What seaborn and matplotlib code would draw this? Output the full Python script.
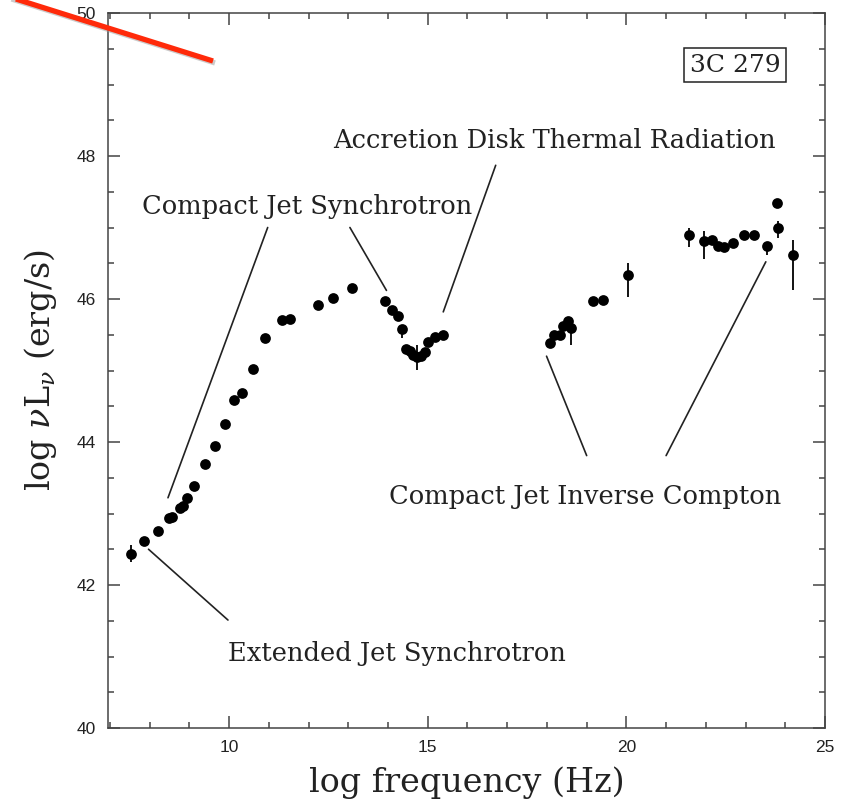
import matplotlib
matplotlib.use("Agg")
import matplotlib.pyplot as plt
from matplotlib.lines import Line2D
from matplotlib.ticker import MultipleLocator
import seaborn as sns
import pandas as pd
import numpy as np


# SED points of 3C 279

logFreq = [7.54, 7.85, 8.20, 8.49, 8.57, 8.75, 8.84, 8.95, 9.12, 9.39, 9.65, 9.89, 10.12, 10.32,
           10.61, 10.90, 11.33, 11.52, 12.24, 12.61, 13.08,
           13.92, 14.10, 14.24, 14.35, 14.44, 14.55, 14.63, 14.72, 14.82, 14.92, 15.01, 15.19, 15.39,
           18.07, 18.17, 18.32, 18.41, 18.53, 18.60, 19.16, 19.42, 20.05,
           21.57, 21.95, 22.15, 22.30, 22.46, 22.69, 22.97, 23.22, 23.53, 23.78, 23.82, 24.19]
logLum  = [42.44, 42.62, 42.75, 42.94, 42.95, 43.08, 43.11, 43.21, 43.39, 43.69, 43.94, 44.25, 44.59, 44.69,
           45.02, 45.46, 45.71, 45.72, 45.92, 46.02, 46.16,
           45.97, 45.85, 45.76, 45.58, 45.30, 45.27, 45.22, 45.19, 45.20, 45.26, 45.40, 45.47, 45.50,
           45.39, 45.50, 45.50, 45.62, 45.69, 45.59, 45.97, 45.98, 46.33,
           46.89, 46.81, 46.83, 46.74, 46.73, 46.79, 46.90, 46.90, 46.74, 47.34, 47.00, 46.61]
errLow  = [0.12, 0, 0, 0, 0, 0, 0, 0, 0, 0, 0, 0, 0, 0,
           0, 0, 0, 0, 0, 0, 0,
           0, 0, 0, 0.13, 0, 0, 0, 0.18, 0, 0, 0, 0, 0,
           0, 0, 0, 0, 0, 0.23, 0, 0, 0.30,
           0.16, 0.25, 0, 0, 0, 0, 0, 0, 0.12, 0, 0.14, 0.48]
errHigh = [0.12, 0, 0, 0, 0, 0, 0, 0, 0, 0, 0, 0, 0, 0,
           0, 0, 0, 0, 0, 0, 0,
           0, 0, 0, 0, 0, 0, 0, 0.16, 0, 0, 0, 0, 0,
           0, 0, 0, 0, 0, 0.15, 0, 0, 0.18,
           0.11, 0.14, 0, 0, 0, 0, 0, 0, 0.02, 0, 0.09, 0.22]

# component labels and the lines pointing from them to the data
componentLabels = ['Compact Jet Synchrotron', 'Accretion Disk Thermal Radiation',
                   'Compact Jet Inverse Compton', 'Extended Jet Synchrotron']
labelX = [11.96, 18.19, 18.97, 14.23]
labelY = [47.30, 48.21, 43.24, 41.04]

pointerX = [(10.97, 8.46), (13.04, 13.96), (16.71, 15.39), (17.99, 19.00), (21.00, 23.51), (7.97, 9.97)]
pointerY = [(47.00, 43.22), (47.00, 46.12), (47.87, 45.82), (45.20, 43.81), (43.81, 46.52), (42.50, 41.51)]

sourceName = '3C 279'

sed = pd.DataFrame({'logFreq': logFreq, 'logLum': logLum, 'errLow': errLow, 'errHigh': errHigh})


sns.set_style('ticks')
plt.rcParams['font.family'] = ['DejaVu Serif']
plt.rcParams['mathtext.fontset'] = 'dejavuserif'

fig = plt.figure(figsize=(8.46, 8.10), dpi=100)
ax = fig.add_axes([108 / 846, 82 / 810, 717 / 846, 715 / 810])

bars = sed[(sed['errLow'] > 0) | (sed['errHigh'] > 0)]
ax.errorbar(bars['logFreq'], bars['logLum'], yerr=[bars['errLow'], bars['errHigh']],
            fmt='none', ecolor='black', elinewidth=1.3, capsize=0, zorder=2)
sns.scatterplot(ax=ax, data=sed, x='logFreq', y='logLum', color='black', s=60,
                edgecolor='black', linewidth=0, zorder=3)

for (x0, x1), (y0, y1) in zip(pointerX, pointerY):
  ax.plot([x0, x1], [y0, y1], color='#222222', lw=1.2)

for text, x, y in zip(componentLabels, labelX, labelY):
  ax.text(x, y, text, ha='center', va='center', fontsize=18.5, color='#222222')

ax.text(22.73, 49.27, sourceName, ha='center', va='center', fontsize=18, color='#222222',
        bbox=dict(boxstyle='square,pad=0.22', fc='white', ec='#222222', lw=1.1))

ax.set_xlim(6.95, 25)
ax.set_ylim(40, 50)
ax.xaxis.set_major_locator(MultipleLocator(5))
ax.xaxis.set_minor_locator(MultipleLocator(1))
ax.yaxis.set_major_locator(MultipleLocator(2))
ax.yaxis.set_minor_locator(MultipleLocator(0.5))
ax.tick_params(which='both', direction='in', top=True, right=True, color='#444444', width=1.1,
               labelsize=12.5, labelcolor='#222222')
ax.tick_params(which='major', length=8.5, pad=9)
ax.tick_params(which='minor', length=4.5)
for lab in ax.get_xticklabels() + ax.get_yticklabels():
  lab.set_family('Liberation Sans')
for spine in ax.spines.values():
  spine.set_color('#444444')
  spine.set_linewidth(1.1)

ax.set_xlabel('log frequency (Hz)', fontsize=24, color='#222222', labelpad=8)
ax.set_ylabel(r'log $\nu$L$_\nu$ (erg/s)', fontsize=24, color='#222222', labelpad=12)

# red pointer drawn over the top left corner
fig.add_artist(Line2D([2 / 846, 215 / 846], [1 - (-4) / 810, 1 - 63 / 810], transform=fig.transFigure,
                      color='#999999', lw=3.8, alpha=0.5, solid_capstyle='butt'))
fig.add_artist(Line2D([0, 213 / 846], [1 - (-6) / 810, 1 - 61 / 810], transform=fig.transFigure,
                      color='#ff2a0a', lw=3.8, solid_capstyle='butt'))

fig.savefig('out.png', dpi=100)
